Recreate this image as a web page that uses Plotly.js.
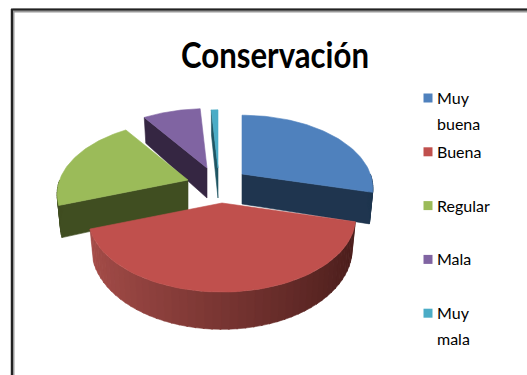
<!DOCTYPE html>
<html><head><meta charset="utf-8"><script src="https://cdn.plot.ly/plotly-3.0.1.min.js"></script>
<style>html,body{margin:0;padding:0;background:#fff}</style></head><body><div id="c" style="width:527px;height:375px"></div>
<script>
var titleText = 'Conservación';
var categories = ['Muy buena', 'Buena', 'Regular', 'Mala', 'Muy mala'];
var legendLines = [['Muy', 'buena'], ['Buena'], ['Regular'], ['Mala'], ['Muy', 'mala']];
var values = [29, 40.5, 21, 8.5, 1];
var topColors = ['#4F81BD', '#C0504D', '#9BBB59', '#8064A2', '#4BACC6'];
var sideColors = ['#1F354F', '#4A1D1B', '#404E21', '#352642', '#1F5563'];
var legendColors = ['#4F81BD', '#C0504D', '#9BBB59', '#8064A2', '#4BACC6'];
var apexX = [242, 222, 188, 207, 218];
var apexY = [174, 203, 180, 168, 168];
var radiusScale = [0.98, 1, 0.98, 0.99, 0.97];
var drawOrder = [3, 4, 0, 2, 1];
var R = 131, H = 71.7, K = 0.195, WALL = 30, TAPER = 0.975;
var rimLeft = [168, 78, 74], rimRight = [72, 28, 26];

function proj(i, th) {
  var u = Math.sin(th), v = Math.cos(th), d = 1 + K * v, s = radiusScale[i];
  return { x: apexX[i] + s * R * u / d, y: apexY[i] - s * H * v / d, d: d };
}
function low(i, p) {
  return { x: apexX[i] + (p.x - apexX[i]) * TAPER, y: p.y + WALL / p.d };
}
var traces = [];
function poly(pts, col, name) {
  traces.push({ type: 'scatter', mode: 'lines', x: pts.map(function (p) { return p.x; }), y: pts.map(function (p) { return p.y; }),
    fill: 'toself', fillcolor: col, line: { color: col, width: 0.6 }, hoverinfo: 'name', name: name, showlegend: false });
}
var total = values.reduce(function (a, b) { return a + b; }, 0);
var edges = [0];
values.forEach(function (v, i) { edges.push(edges[i] + v / total * 2 * Math.PI); });

drawOrder.forEach(function (i) {
  var a = edges[i], b = edges[i + 1], name = categories[i], apex = { x: apexX[i], y: apexY[i], d: 1 };
  [[a, Math.sin(a) < -1e-6], [b, Math.sin(b) > 1e-6]].forEach(function (w) {
    if (w[1]) {
      var p = proj(i, w[0]);
      poly([apex, p, low(i, p), low(i, apex), apex], sideColors[i], name);
    }
  });
  var s = Math.max(a, Math.PI / 2), e = Math.min(b, 3 * Math.PI / 2);
  if (e > s) {
    var n = i === 1 ? 48 : 10;
    for (var k = 0; k < n; k++) {
      var t0 = s + (e - s) * k / n, t1 = s + (e - s) * (k + 1.15) / n;
      if (t1 > e) t1 = e;
      var p0 = proj(i, t0), p1 = proj(i, t1), col = sideColors[i];
      if (i === 1) {
        var f = (Math.sin((t0 + t1) / 2) + 1) / 2;
        col = 'rgb(' + [0, 1, 2].map(function (c) { return Math.round(rimLeft[c] + (rimRight[c] - rimLeft[c]) * f); }).join(',') + ')';
      }
      poly([p0, p1, low(i, p1), low(i, p0), p0], col, name);
    }
  }
  var pts = [apex], m = 60;
  for (var j = 0; j <= m; j++) pts.push(proj(i, a + (b - a) * j / m));
  pts.push(apex);
  poly(pts, topColors[i], name);
});

var swatchY = categories.map(function (c, i) { return 98 + i * 53.8; });
traces.push({ type: 'scatter', mode: 'markers', x: categories.map(function () { return 428; }), y: swatchY,
  marker: { symbol: 'square', size: 9, color: legendColors }, text: categories, hoverinfo: 'text', showlegend: false });
var annotations = [];
legendLines.forEach(function (lines, i) {
  lines.forEach(function (t, j) {
    annotations.push({ xref: 'x', yref: 'y', x: 435, y: swatchY[i] - 0.5 + j * 26, text: t, showarrow: false, xanchor: 'left', yanchor: 'middle',
      font: { family: 'Lato, sans-serif', size: 16, color: '#000' } });
  });
});

var layout = {
  width: 527, height: 375, margin: { l: 0, r: 0, t: 0, b: 0 }, paper_bgcolor: '#fff', plot_bgcolor: '#fff', showlegend: false,
  title: { text: titleText, x: 275 / 527, xanchor: 'center', y: 1 - 55 / 375, yanchor: 'middle',
    font: { family: 'Lato, sans-serif', size: 37, weight: 700, color: '#000' } },
  xaxis: { range: [0, 527], visible: false, fixedrange: true },
  yaxis: { range: [375, 0], visible: false, fixedrange: true },
  annotations: annotations,
  shapes: [
    { type: 'line', xref: 'paper', yref: 'paper', x0: 12.5 / 527, x1: 12.5 / 527, y0: 1 - 9 / 375, y1: 0, line: { color: '#999', width: 4 } },
    { type: 'line', xref: 'paper', yref: 'paper', x0: 12.5 / 527, x1: 1, y0: 1 - 10.5 / 375, y1: 1 - 10.5 / 375, line: { color: '#999', width: 4 } },
    { type: 'line', xref: 'paper', yref: 'paper', x0: 12 / 527, x1: 12 / 527, y0: 1 - 9 / 375, y1: 0, line: { color: '#222', width: 2 } },
    { type: 'line', xref: 'paper', yref: 'paper', x0: 11 / 527, x1: 1, y0: 1 - 9.5 / 375, y1: 1 - 9.5 / 375, line: { color: '#222', width: 2 } }
  ]
};
Plotly.newPlot('c', traces, layout, { displayModeBar: false, staticPlot: true }).then(function () {
  var t = document.querySelector('#c .gtitle');
  if (t) { t.setAttribute('textLength', '188'); t.setAttribute('lengthAdjust', 'spacingAndGlyphs'); }
});
</script></body></html>
